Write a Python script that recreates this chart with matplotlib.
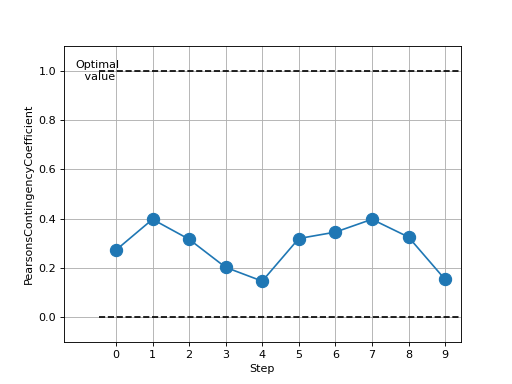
import numpy as np
import matplotlib
matplotlib.use('Agg')
import matplotlib.pyplot as plt

steps = [0, 1, 2, 3, 4, 5, 6, 7, 8, 9]
coef = [0.272, 0.397, 0.316, 0.202, 0.146, 0.319, 0.345, 0.397, 0.325, 0.153]
optimal = 1.0
baseline = 0.0

# default 6.4x4.8 figure, saved small
fig, ax = plt.subplots(figsize=(6.4, 4.8), dpi=80)
ax.plot(steps, coef, 'o-', color='#1f77b4', markersize=11)
ax.hlines([optimal, baseline], -0.45, 9.5, colors='k', linestyles='--')
ax.text(-0.5, optimal, "Optimal\n value", ha='center', va='center')

ax.set_xticks(steps)
ax.set_yticks([0.0, 0.2, 0.4, 0.6, 0.8, 1.0])
ax.set_xlim(-1.42, 9.43)
ax.set_ylim(-0.1, 1.1)
ax.grid(True)
ax.set_xlabel('Step')
ax.set_ylabel('PearsonsContingencyCoefficient')

plt.savefig('out.png', dpi=80)
